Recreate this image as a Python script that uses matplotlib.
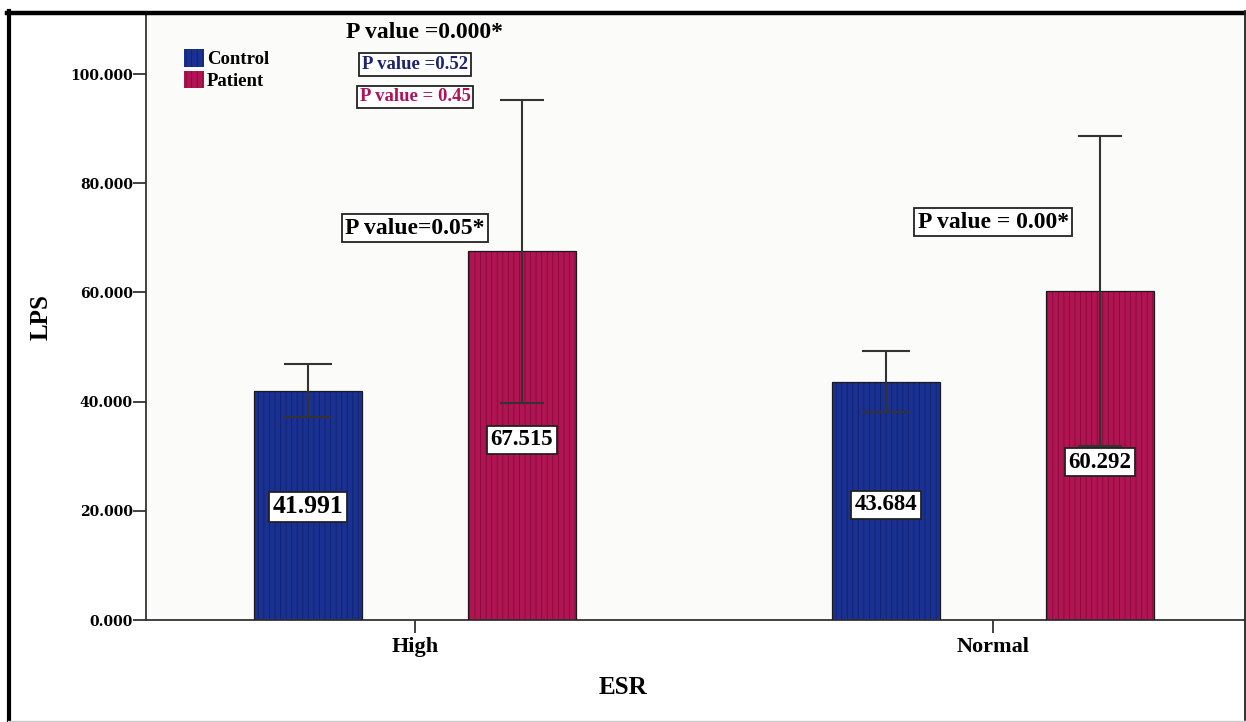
import matplotlib.pyplot as plt
from matplotlib.lines import Line2D
import numpy as np

# ESR groups and LPS means (error bars)
categories = ["High", "Normal"]
control_means = [41.991, 43.684]
patient_means = [67.515, 60.292]
control_err = [4.85, 5.5]
patient_err = [27.75, 28.45]
series_names = ["Control", "Patient"]
yticks = [0, 20, 40, 60, 80, 100]

# annotation texts
p_top = "P value =0.000*"
p_control = "P value =0.52"
p_patient = "P value = 0.45"
p_groups = ["P value=0.05*", "P value = 0.00*"]

CONTROL_COLOR = "#1a3191"
CONTROL_STRIPE = "#0f2170"
PATIENT_COLOR = "#b01452"
PATIENT_STRIPE = "#850a3a"

plt.rcParams['font.family'] = ['Liberation Serif', 'DejaVu Serif']
plt.rcParams['font.weight'] = 'bold'
plt.rcParams['hatch.linewidth'] = 0.6

fig = plt.figure(figsize=(12.46, 7.22), dpi=100)
ax = fig.add_axes([146 / 1246, 1 - 620 / 722, 1098 / 1246, 606 / 722])
ax.set_facecolor("#fbfbf9")

x = np.arange(len(categories))
offset = 0.185
width = 0.187

# striped fill, then a thin dark outline on top
b1 = ax.bar(x - offset, control_means, width, color=CONTROL_COLOR,
            edgecolor=CONTROL_STRIPE, hatch='|||', linewidth=0, zorder=2,
            label=series_names[0])
b2 = ax.bar(x + offset, patient_means, width, color=PATIENT_COLOR,
            edgecolor=PATIENT_STRIPE, hatch='|||', linewidth=0, zorder=2,
            label=series_names[1])
ax.bar(x - offset, control_means, width, fill=False, edgecolor="#1a1a1a",
       linewidth=0.9, zorder=3)
ax.bar(x + offset, patient_means, width, fill=False, edgecolor="#1a1a1a",
       linewidth=0.9, zorder=3)

ax.errorbar(x - offset, control_means, yerr=control_err, fmt='none',
            ecolor="#333333", elinewidth=1.5, capsize=17, capthick=1.5, zorder=4)
ax.errorbar(x + offset, patient_means, yerr=patient_err, fmt='none',
            ecolor="#333333", elinewidth=1.5, capsize=16, capthick=1.5, zorder=4)

# value labels inside the bars
label_y = {"c": [20.7, 21.1], "p": [33.0, 28.9]}
label_size = {"c": [18.5, 16.5], "p": [16.5, 16.5]}


def boxed():
    return dict(boxstyle='square,pad=0.15', fc='white', ec='#222222', lw=1.3)


for i in range(len(categories)):
    ax.text(x[i] - offset, label_y["c"][i], f"{control_means[i]:.3f}",
            ha='center', va='center', fontsize=label_size["c"][i],
            fontweight='bold', bbox=boxed(), zorder=6)
    ax.text(x[i] + offset, label_y["p"][i], f"{patient_means[i]:.3f}",
            ha='center', va='center', fontsize=label_size["p"][i],
            fontweight='bold', bbox=boxed(), zorder=6)

# p-value annotations
ax.text(0.017, 107.7, p_top, ha='center', va='center', fontsize=17,
        fontweight='bold', color='black', zorder=6)
ax.text(0.0, 101.8, p_control, ha='center', va='center', fontsize=13.5,
        fontweight='bold', color='#1c2470', bbox=boxed(), zorder=6)
ax.text(0.0, 95.8, p_patient, ha='center', va='center', fontsize=13.5,
        fontweight='bold', color='#b0125a', bbox=boxed(), zorder=6)
ax.text(0.0, 71.8, p_groups[0], ha='center', va='center', fontsize=17,
        fontweight='bold', bbox=boxed(), zorder=6)
ax.text(1.0, 72.9, p_groups[1], ha='center', va='center', fontsize=17,
        fontweight='bold', bbox=boxed(), zorder=6)

ax.set_xlim(-0.4654, 1.434)
ax.set_ylim(0, 111)
ax.set_xticks(x)
ax.set_xticklabels(categories, fontsize=16)
ax.set_yticks(yticks)
ax.set_yticklabels([f"{v:.3f}" for v in yticks], family='DejaVu Serif',
                   fontsize=10, fontweight='bold')
ax.tick_params(axis='both', direction='out', length=9.5, width=1.3,
               color='#333333')
ax.tick_params(axis='y', pad=0)
ax.tick_params(axis='x', pad=3)

ax.set_ylabel("LPS", fontsize=18, fontweight='bold')
ax.set_xlabel("ESR", fontsize=18, fontweight='bold')
ax.yaxis.set_label_coords(-0.085, 0.5)
ax.xaxis.set_label_coords(0.434, -0.092)

for side in ['left', 'bottom']:
    ax.spines[side].set_color('#333333')
    ax.spines[side].set_linewidth(1.3)
ax.spines['top'].set_visible(False)
ax.spines['right'].set_visible(False)

leg = ax.legend(handles=[b1, b2], loc='upper left', bbox_to_anchor=(0.035, 0.942),
                frameon=False, fontsize=13.5, handlelength=1.05, handleheight=1.05,
                handletextpad=0.15, labelspacing=0.15, borderpad=0,
                borderaxespad=0)

# outer frame round the whole picture
W, H = 1246, 722
fig.add_artist(Line2D([8.5 / W, 8.5 / W], [0, 1 - 11 / H], color='black', lw=3))
fig.add_artist(Line2D([7 / W, 1245 / W], [1 - 12.5 / H, 1 - 12.5 / H], color='black', lw=3.2))
fig.add_artist(Line2D([1244.5 / W, 1244.5 / W], [2 / H, 1 - 11 / H], color='#222222', lw=1.3))
fig.add_artist(Line2D([8 / W, 1245 / W], [1.5 / H, 1.5 / H], color='#cccccc', lw=1))

fig.savefig("out.png", dpi=100)
